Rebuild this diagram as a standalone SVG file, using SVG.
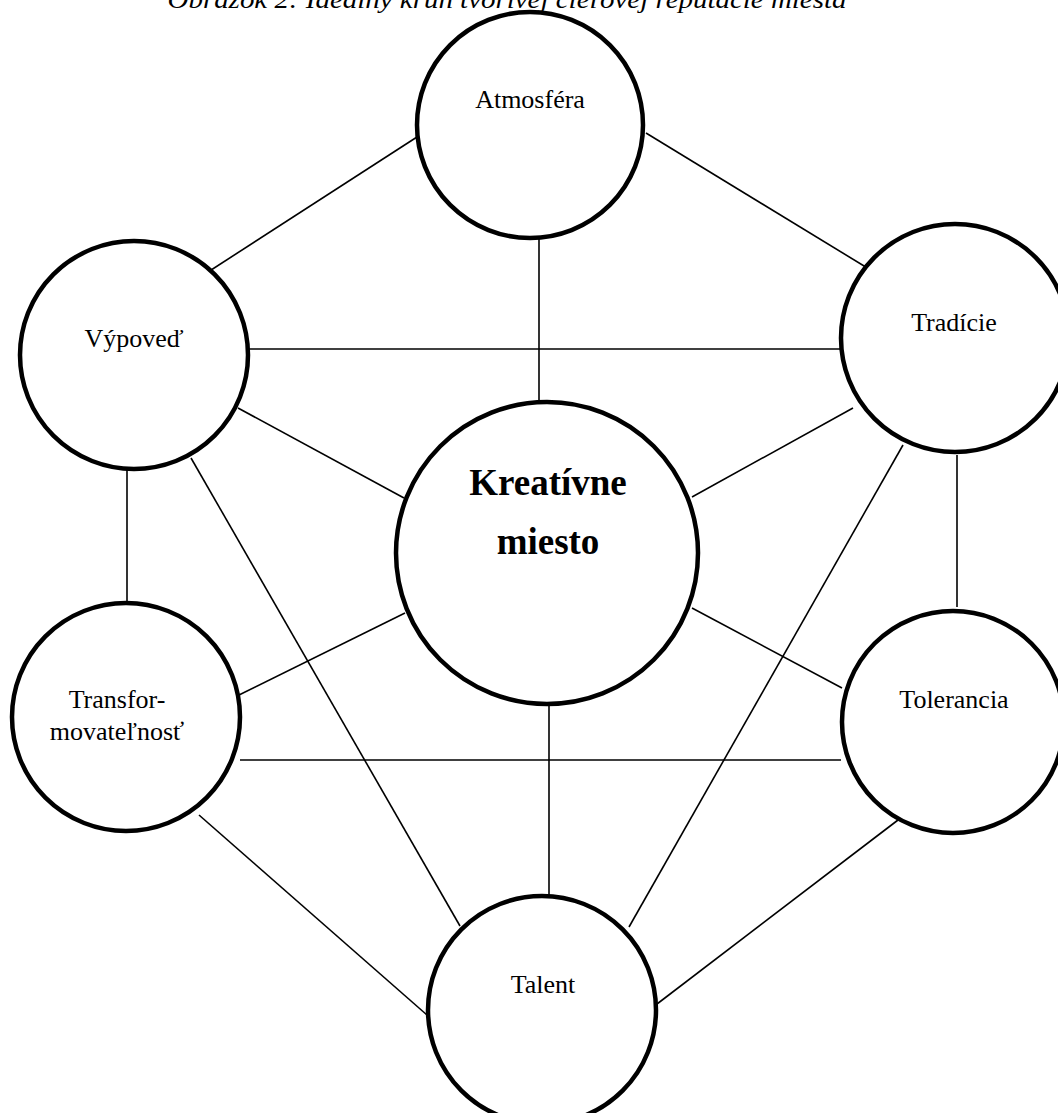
<svg xmlns="http://www.w3.org/2000/svg" width="1058" height="1113" viewBox="0 0 1058 1113">
<style>
.node{fill:#fff;stroke:#000;stroke-width:4.5}
.lbl{font-family:"Liberation Serif","Times New Roman",serif;font-size:26px;fill:#000;text-anchor:middle}
.big{font-family:"Liberation Serif","Times New Roman",serif;font-size:37px;font-weight:bold;fill:#000;text-anchor:middle}
.title{font-family:"Liberation Serif","Times New Roman",serif;font-size:26px;font-style:italic;fill:#000;text-anchor:middle}
#connectors line{stroke:#000;stroke-width:1.6}
</style>
<rect width="1058" height="1113" fill="#fff"/>
<text class="title" x="507" y="8" textLength="679" lengthAdjust="spacingAndGlyphs">Obrázok 2: Ideálny kruh tvorivej cieľovej reputácie miesta</text>
<g id="connectors">
<line x1="417" y1="137" x2="208" y2="272"/>
<line x1="646" y1="133" x2="869" y2="269"/>
<line x1="539" y1="237" x2="539" y2="406"/>
<line x1="248" y1="349" x2="841" y2="349"/>
<line x1="238" y1="408" x2="404" y2="498"/>
<line x1="191" y1="458" x2="460" y2="926"/>
<line x1="127" y1="470" x2="127" y2="611"/>
<line x1="853" y1="408" x2="692" y2="497"/>
<line x1="903" y1="445" x2="629" y2="927"/>
<line x1="957" y1="455" x2="957" y2="607"/>
<line x1="405" y1="613" x2="239" y2="695"/>
<line x1="692" y1="608" x2="842" y2="688"/>
<line x1="549" y1="703" x2="549" y2="895"/>
<line x1="240" y1="760" x2="841" y2="760"/>
<line x1="199" y1="815" x2="427" y2="1015"/>
<line x1="898" y1="820" x2="657" y2="1004"/>
</g>
<g id="atmosfera"><circle class="node" cx="530" cy="125" r="113"/><text class="lbl" x="530" y="108">Atmosféra</text></g>
<g id="vypoved"><circle class="node" cx="134" cy="355" r="114"/><text class="lbl" x="134" y="347">Výpoveď</text></g>
<g id="tradicie"><circle class="node" cx="955" cy="338" r="114"/><text class="lbl" x="954" y="331">Tradície</text></g>
<g id="kreativne"><circle class="node" cx="547" cy="553" r="151"/><text class="big" x="548" y="495">Kreatívne</text><text class="big" x="548" y="554">miesto</text></g>
<g id="transformovatelnost"><circle class="node" cx="126" cy="717" r="114"/><text class="lbl" x="117" y="708">Transfor-</text><text class="lbl" x="117" y="740">movateľnosť</text></g>
<g id="tolerancia"><circle class="node" cx="953" cy="722" r="111"/><text class="lbl" x="954" y="708">Tolerancia</text></g>
<g id="talent"><circle class="node" cx="542" cy="1010" r="114"/><text class="lbl" x="543" y="993">Talent</text></g>
</svg>
